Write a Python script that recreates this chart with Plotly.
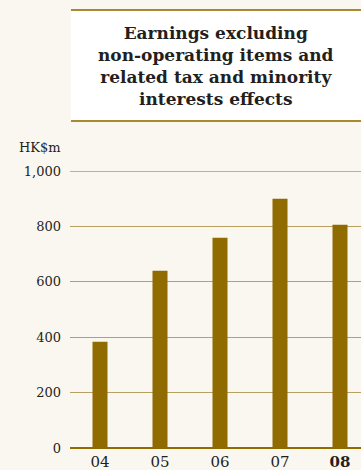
import plotly.graph_objects as go

years = ["04", "05", "06", "07", "08"]
earnings = [384, 640, 759, 900, 806]
y_ticks = [0, 200, 400, 600, 800, 1000]
y_tick_labels = ["0", "200", "400", "600", "800", "1,000"]
x_tick_labels = ["04", "05", "06", "07", "<b>08</b>"]

BG = "#faf7f0"
GOLD = "#8f6b00"
GRID = "#b8a060"
TXT = "#231f20"
FONT = "DejaVu Serif"

W, H = 361, 470
L, T, B = 70, 171, 22
PH = H - T - B
PW = W - L

def py(Y):
    return (H - B - Y) / PH

def px(X):
    return (X - L) / PW

fig = go.Figure()
fig.add_trace(go.Bar(x=years, y=earnings, marker=dict(color=GOLD, line=dict(width=0)), width=0.25))

fig.update_layout(
    width=W, height=H,
    margin=dict(l=L, r=0, t=T, b=B),
    paper_bgcolor=BG, plot_bgcolor=BG,
    showlegend=False,
    bargap=0.75,
    xaxis=dict(range=[-0.5, 4.35], tickmode="array", tickvals=years, ticktext=x_tick_labels,
               showgrid=False, zeroline=False, showline=False, ticks="", ticklabelstandoff=3,
               tickfont=dict(family=FONT, size=15, color=TXT)),
    yaxis=dict(range=[0, 1000], tickmode="array", tickvals=y_ticks, ticktext=y_tick_labels,
               showgrid=True, gridcolor=GRID, gridwidth=1, zeroline=True, zerolinecolor=GOLD,
               zerolinewidth=1.5, showline=False, ticks="", ticklabelstandoff=8,
               tickfont=dict(family=FONT, size=13, color=TXT)),
    shapes=[
        dict(type="rect", xref="paper", yref="paper", x0=px(71), x1=px(361), y0=py(121), y1=py(10),
             fillcolor="white", line=dict(width=0), layer="below"),
        dict(type="line", xref="paper", yref="paper", x0=px(71), x1=px(361), y0=py(10), y1=py(10),
             line=dict(color="#a8892f", width=2)),
        dict(type="line", xref="paper", yref="paper", x0=px(71), x1=px(361), y0=py(121), y1=py(121),
             line=dict(color="#a8892f", width=2)),
        dict(type="line", xref="paper", yref="y", x0=0, x1=1, y0=1000, y1=1000,
             line=dict(color=GOLD, width=1.2)),
    ],
    annotations=[
        dict(xref="paper", yref="paper", x=px(216), y=py(66), xanchor="center", yanchor="middle",
             text="<b>Earnings excluding<br>non-operating items and<br>related tax and minority<br>interests effects</b>",
             showarrow=False, align="center",
             font=dict(family=FONT, size=17, color=TXT)),
        dict(xref="paper", yref="paper", x=px(17), y=py(148), xanchor="left", yanchor="middle",
             text="HK$m", showarrow=False, font=dict(family=FONT, size=13, color=TXT)),
    ],
)

fig.write_html("out.html", config={"displayModeBar": False},
               post_script="document.body.style.margin='0';document.body.style.overflow='hidden';")
